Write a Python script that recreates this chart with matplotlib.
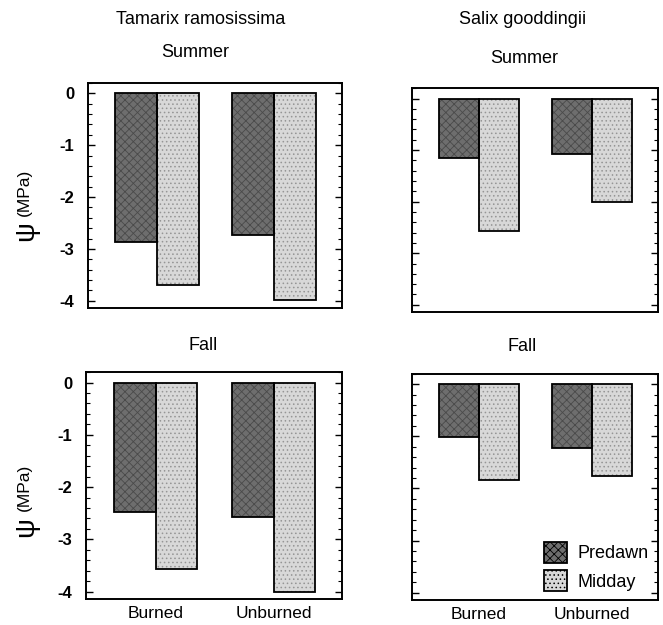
import matplotlib.pyplot as plt
import numpy as np
from matplotlib.ticker import MultipleLocator
from matplotlib.patches import Patch

sites = ["Burned", "Unburned"]
series = ["Predawn", "Midday"]

# water potential (MPa)
tamarix_summer_predawn = [-2.86, -2.74]
tamarix_summer_midday = [-3.69, -3.98]
tamarix_fall_predawn = [-2.47, -2.58]
tamarix_fall_midday = [-3.57, -4.0]
salix_summer_predawn = [-1.16, -1.07]
salix_summer_midday = [-2.57, -2.0]
salix_fall_predawn = [-1.02, -1.22]
salix_fall_midday = [-1.84, -1.76]

plt.rcParams['font.family'] = ['Liberation Sans', 'DejaVu Sans']
plt.rcParams['hatch.linewidth'] = 0.6

fig = plt.figure(figsize=(6.63, 6.25), dpi=100)

panels = [
    ([0.1327, 0.5072, 0.383, 0.360], tamarix_summer_predawn, tamarix_summer_midday, True, False),
    ([0.6214, 0.5008, 0.371, 0.358], salix_summer_predawn, salix_summer_midday, False, False),
    ([0.1297, 0.0416, 0.386, 0.363], tamarix_fall_predawn, tamarix_fall_midday, True, True),
    ([0.6214, 0.0400, 0.371, 0.362], salix_fall_predawn, salix_fall_midday, False, True),
]

pre_face = '#6e6e6e'
mid_face = '#d8d8d8'
w = 0.355
x = np.arange(len(sites))

axes = []
for rect, pre, mid, ylab, xlab in panels:
    ax = fig.add_axes(rect)
    # textured fills first, then black outlines on top
    ax.bar(x - w / 2, pre, w, color=pre_face, hatch='xxxx', edgecolor='#4a4a4a', linewidth=0)
    ax.bar(x + w / 2, mid, w, color=mid_face, hatch='....', edgecolor='#959595', linewidth=0)
    ax.bar(x - w / 2, pre, w, fill=False, edgecolor='black', linewidth=1.3)
    ax.bar(x + w / 2, mid, w, fill=False, edgecolor='black', linewidth=1.3)
    ax.set_xlim(-0.59, 1.58)
    ax.set_ylim(-4.14, 0.2)
    ax.yaxis.set_major_locator(MultipleLocator(1))
    ax.yaxis.set_minor_locator(MultipleLocator(0.2))
    ax.tick_params(axis='y', which='both', direction='in', left=True, right=True)
    ax.tick_params(axis='y', which='major', length=5, width=1)
    ax.tick_params(axis='y', which='minor', length=3, width=0.8)
    ax.tick_params(axis='x', length=0, pad=5)
    for s in ax.spines.values():
        s.set_linewidth(1.4)
    if ylab:
        ax.set_yticks([0, -1, -2, -3, -4])
        ax.set_yticklabels(['0', '-1', '-2', '-3', '-4'], fontsize=12, fontweight='bold')
        ax.tick_params(axis='y', pad=10)
    else:
        ax.set_yticklabels([])
    ax.set_xticks(x)
    if xlab:
        ax.set_xticklabels(sites, fontsize=12.5)
    else:
        ax.set_xticklabels([])
    axes.append(ax)

handles = [Patch(facecolor=pre_face, edgecolor='black', hatch='xxxx', linewidth=1.3),
           Patch(facecolor=mid_face, edgecolor='black', hatch='....', linewidth=1.3)]
axes[3].legend(handles, series, loc='lower right', frameon=False, fontsize=13,
               handlelength=1.3, handleheight=1.4, handletextpad=0.6,
               borderaxespad=0.1, labelspacing=0.4)

fig.text(0.303, 0.968, "Tamarix ramosissima", ha='center', va='center', fontsize=13)
fig.text(0.294, 0.916, "Summer", ha='center', va='center', fontsize=13)
fig.text(0.788, 0.968, "Salix gooddingii", ha='center', va='center', fontsize=13)
fig.text(0.790, 0.907, "Summer", ha='center', va='center', fontsize=13)
fig.text(0.306, 0.448, "Fall", ha='center', va='center', fontsize=13)
fig.text(0.788, 0.445, "Fall", ha='center', va='center', fontsize=13)

for ypsi, ympa in [(1 - 231 / 625, 1 - 192 / 625), (1 - 527 / 625, 1 - 487 / 625)]:
    fig.text(0.040, ypsi, "ψ", rotation=90, ha='center', va='center', fontsize=20)
    fig.text(0.037, ympa, "(MPa)", rotation=90, ha='center', va='center', fontsize=12.5)

fig.savefig("out.png", dpi=100)
